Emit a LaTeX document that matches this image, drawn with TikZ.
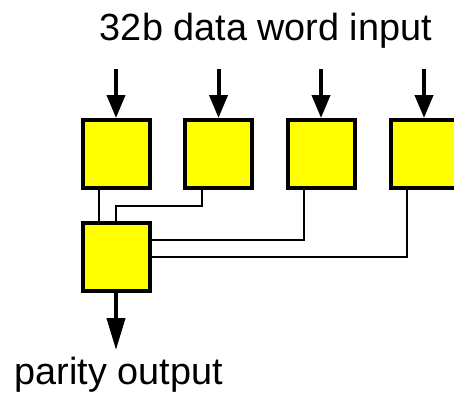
\documentclass[tikz,border=0pt]{standalone}
\usepackage{fontspec}
\setmainfont{Liberation Sans}
\usetikzlibrary{arrows.meta}
\definecolor{blkfill}{RGB}{255,255,0}
\begin{document}
\begin{tikzpicture}[x=1pt,y=1pt,
  blk/.style={draw=black, fill=blkfill, line width=4pt, minimum width=67pt, minimum height=68pt, inner sep=0pt},
  wire/.style={draw=black, line width=2pt},
  inarrow/.style={draw=black, line width=4pt, -{Triangle[length=23pt,width=18pt]}},
  outarrow/.style={draw=black, line width=4pt, -{Triangle[length=32pt,width=18pt]}},
  lbl/.style={font=\fontsize{37.8}{42}\selectfont, inner sep=0pt}]
  \useasboundingbox (0,0) rectangle (454,-394);
  \clip (0,0) rectangle (454,-394);

  % XOR stage for the four bytes
  \node[blk] (b1) at (116,-154) {};
  \node[blk] (b2) at (218.5,-154) {};
  \node[blk] (b3) at (321,-154) {};
  \node[blk] (b4) at (424,-154) {};
  % final combining block
  \node[blk] (par) at (116,-257) {};

  % inputs
  \coordinate (i1) at (116,-69);
  \coordinate (i2) at (218.5,-69);
  \coordinate (i3) at (321,-69);
  \coordinate (i4) at (424,-69);
  \foreach \k in {1,...,4} \draw[inarrow] (i\k) -- (b\k.north);

  % output
  \coordinate (o) at (116,-350);
  \draw[outarrow] (par.south) -- (o);

  % wiring into the final block
  \draw[wire] ([xshift=-17pt]b1.south) -- ([xshift=-17pt]par.north);
  \draw[wire] ([xshift=-17pt]b2.south) -- ++(0,-16) -| (par.north);
  \draw[wire] ([xshift=-17pt]b3.south) |- ([yshift=17pt]par.east);
  \draw[wire] ([xshift=-17pt]b4.south) |- (par.east);

  % labels
  \node[lbl, anchor=base] (tin) at (266,-40) {32b data word input};
  \node[lbl, anchor=base west] (tout) at (14.5,-384) {parity output};
\end{tikzpicture}
\end{document}
